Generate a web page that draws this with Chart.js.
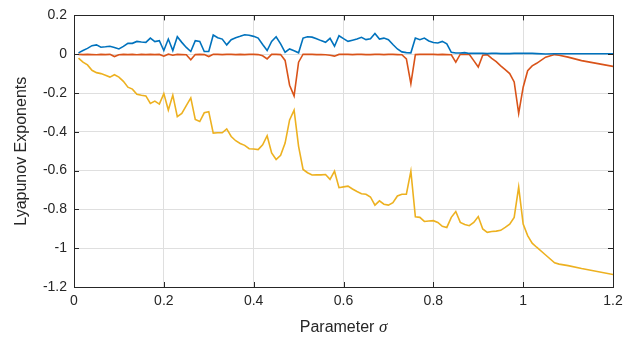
<!DOCTYPE html>
<html>
<head>
<meta charset="utf-8">
<script src="https://cdn.jsdelivr.net/npm/chart.js@4.4.1/dist/chart.umd.min.js"></script>
<style>
  html, body { margin: 0; padding: 0; background: #fff; }
  #wrap { width: 639px; height: 342px; }
</style>
</head>
<body>
<div id="wrap"><canvas id="lyapChart" width="639" height="342"></canvas></div>
<script>
// parameter values (sigma)
const sigma = [
  0.01,0.02,0.03,0.04,0.05,0.06,0.07,0.08,0.09,0.10,
  0.11,0.12,0.13,0.14,0.15,0.16,0.17,0.18,0.19,0.20,
  0.21,0.22,0.23,0.24,0.25,0.26,0.27,0.28,0.29,0.30,
  0.31,0.32,0.33,0.34,0.35,0.36,0.37,0.38,0.39,0.40,
  0.41,0.42,0.43,0.44,0.45,0.46,0.47,0.48,0.49,0.50,
  0.51,0.52,0.53,0.54,0.55,0.56,0.57,0.58,0.59,0.60,
  0.61,0.62,0.63,0.64,0.65,0.66,0.67,0.68,0.69,0.70,
  0.71,0.72,0.73,0.74,0.75,0.76,0.77,0.78,0.79,0.80,
  0.81,0.82,0.83,0.84,0.85,0.86,0.87,0.88,0.89,0.90,
  0.91,0.92,0.93,0.94,0.95,0.96,0.97,0.98,0.99,1.00,
  1.01,1.02,1.03,1.05,1.07,1.08,1.10,1.13,1.20
];

const lyap1 = [
  0.007,0.019,0.03,0.044,0.048,0.036,0.038,0.041,0.035,0.027,
  0.04,0.056,0.056,0.066,0.063,0.061,0.083,0.065,0.07,0.019,
  0.078,0.019,0.09,0.061,0.035,0.014,0.07,0.066,0.014,0.014,
  0.099,0.085,0.078,0.048,0.075,0.085,0.092,0.1,0.098,0.092,
  0.083,0.05,0.019,0.066,0.09,0.053,0.01,0.027,0.018,0.007,
  0.083,0.09,0.088,0.08,0.07,0.061,0.082,0.041,0.095,0.08,
  0.066,0.072,0.078,0.087,0.075,0.08,0.107,0.078,0.083,0.075,
  0.05,0.027,0.012,0.008,0.007,0.083,0.075,0.083,0.068,0.06,
  0.058,0.066,0.053,0.01,0.006,0.006,0.008,0.004,0.004,0.004,
  0.004,0.003,0.004,0.004,0.003,0.003,0.003,0.004,0.005,0.004,
  0.005,0.004,0.003,0.001,0.002,0.002,0.002,0.002,0.002
];

const lyap2 = [
  -0.001,-0.002,-0.001,-0.002,-0.003,-0.001,-0.002,-0.001,-0.012,-0.003,
  -0.001,-0.002,-0.001,-0.003,-0.001,-0.002,-0.001,-0.002,-0.001,-0.01,
  0,-0.005,-0.001,-0.002,-0.003,-0.029,-0.002,-0.001,-0.002,-0.012,
  -0.001,-0.001,-0.002,-0.001,-0.001,-0.002,-0.001,-0.002,-0.001,-0.001,
  -0.002,-0.008,-0.024,-0.001,-0.001,-0.002,-0.032,-0.16,-0.215,-0.041,
  0,-0.001,-0.001,-0.002,-0.002,-0.003,-0.005,-0.01,-0.001,-0.001,
  -0.001,-0.002,-0.001,-0.001,-0.002,-0.002,-0.001,-0.001,-0.002,-0.001,
  -0.001,-0.002,-0.003,-0.024,-0.152,-0.002,-0.001,-0.001,-0.001,-0.001,
  -0.002,-0.001,-0.002,-0.003,-0.041,0,-0.001,0,-0.033,-0.066,
  -0.005,-0.002,-0.022,-0.038,-0.06,-0.08,-0.1,-0.143,-0.305,-0.17,
  -0.085,-0.06,-0.047,-0.015,-0.002,-0.005,-0.015,-0.033,-0.063
];

const lyap3 = [
  -0.02,-0.041,-0.055,-0.083,-0.095,-0.1,-0.108,-0.118,-0.106,-0.118,
  -0.14,-0.17,-0.18,-0.206,-0.212,-0.215,-0.254,-0.242,-0.257,-0.203,
  -0.288,-0.211,-0.322,-0.305,-0.265,-0.225,-0.336,-0.347,-0.302,-0.296,
  -0.407,-0.405,-0.405,-0.385,-0.424,-0.446,-0.46,-0.47,-0.487,-0.489,
  -0.492,-0.467,-0.42,-0.509,-0.543,-0.521,-0.458,-0.339,-0.288,-0.475,
  -0.594,-0.611,-0.623,-0.622,-0.622,-0.62,-0.645,-0.603,-0.688,-0.684,
  -0.68,-0.695,-0.708,-0.719,-0.722,-0.736,-0.778,-0.756,-0.773,-0.778,
  -0.765,-0.731,-0.722,-0.722,-0.603,-0.838,-0.841,-0.862,-0.86,-0.858,
  -0.867,-0.887,-0.893,-0.841,-0.811,-0.867,-0.878,-0.884,-0.867,-0.837,
  -0.901,-0.918,-0.914,-0.912,-0.908,-0.893,-0.876,-0.841,-0.685,-0.876,
  -0.935,-0.974,-0.995,-1.035,-1.075,-1.082,-1.09,-1.105,-1.136
];

const xTicks = [0, 0.2, 0.4, 0.6, 0.8, 1, 1.2];
const yTicks = [0.2, 0, -0.2, -0.4, -0.6, -0.8, -1, -1.2];

const AXIS_COLOR = "#262626";
const GRID_COLOR = "#dfdfdf";

function toPoints(ys) {
    return sigma.map((s, i) => ({ x: s, y: ys[i] }));
}

// box with inward ticks on all four sides + x title with italic sigma
const matlabAxes = {
    id: "matlabAxes",
    afterDraw(chart) {
        const { ctx, chartArea: a, scales } = chart;
        const tl = 5;
        ctx.save();
        ctx.strokeStyle = AXIS_COLOR;
        ctx.lineWidth = 1;
        ctx.beginPath();
        xTicks.forEach(v => {
            const px = Math.round(scales.x.getPixelForValue(v)) + 0.5;
            ctx.moveTo(px, a.bottom); ctx.lineTo(px, a.bottom - tl);
            ctx.moveTo(px, a.top); ctx.lineTo(px, a.top + tl);
        });
        yTicks.forEach(v => {
            const py = Math.round(scales.y.getPixelForValue(v)) + 0.5;
            ctx.moveTo(a.left, py); ctx.lineTo(a.left + tl, py);
            ctx.moveTo(a.right, py); ctx.lineTo(a.right - tl, py);
        });
        ctx.stroke();
        ctx.strokeRect(Math.round(a.left) + 0.5, Math.round(a.top) + 0.5,
            Math.round(a.right - a.left), Math.round(a.bottom - a.top));

        // x axis title
        const part1 = "Parameter ";
        const part2 = "\u03c3";
        const f1 = "16px 'Liberation Sans', Arial, sans-serif";
        const f2 = "italic 17px 'Liberation Serif', 'Times New Roman', serif";
        ctx.font = f1;
        const w1 = ctx.measureText(part1).width;
        ctx.font = f2;
        const w2 = ctx.measureText(part2).width;
        const cx = (a.left + a.right) / 2;
        const y = 328;
        let x = cx - (w1 + w2) / 2;
        ctx.fillStyle = AXIS_COLOR;
        ctx.textBaseline = "middle";
        ctx.textAlign = "left";
        ctx.font = f1;
        ctx.fillText(part1, x, y);
        ctx.font = f2;
        ctx.fillText(part2, x + w1, y);
        ctx.restore();
    }
};

const ctx = document.getElementById("lyapChart").getContext("2d");

new Chart(ctx, {
    type: "line",
    data: {
        datasets: [
            { label: "lambda1", data: toPoints(lyap1), borderColor: "#0072BD" },
            { label: "lambda2", data: toPoints(lyap2), borderColor: "#D95319" },
            { label: "lambda3", data: toPoints(lyap3), borderColor: "#EDB120" }
        ]
    },
    options: {
        responsive: false,
        animation: false,
        parsing: false,
        elements: {
            point: { radius: 0 },
            line: { borderWidth: 1.6, tension: 0, fill: false }
        },
        layout: { padding: { left: 0, right: 26, top: 13, bottom: 0 } },
        plugins: {
            legend: { display: false },
            tooltip: { enabled: false }
        },
        scales: {
            x: {
                type: "linear",
                min: 0,
                max: 1.2,
                afterFit: s => { s.height = 55; },
                afterBuildTicks: s => { s.ticks = xTicks.map(v => ({ value: v })); },
                ticks: {
                    padding: 6,
                    color: AXIS_COLOR,
                    font: { family: "'Liberation Sans', Arial, sans-serif", size: 14 },
                    maxRotation: 0,
                    callback: v => String(parseFloat(v.toFixed(1)))
                },
                grid: { color: GRID_COLOR, drawTicks: false },
                border: { display: false }
            },
            y: {
                type: "linear",
                min: -1.2,
                max: 0.2,
                afterFit: s => { s.width = 74; },
                afterBuildTicks: s => { s.ticks = yTicks.map(v => ({ value: v })); },
                ticks: {
                    padding: 7,
                    color: AXIS_COLOR,
                    font: { family: "'Liberation Sans', Arial, sans-serif", size: 14 },
                    callback: v => String(parseFloat(v.toFixed(1)))
                },
                grid: { color: GRID_COLOR, drawTicks: false },
                border: { display: false },
                title: {
                    display: true,
                    text: "Lyapunov Exponents",
                    color: AXIS_COLOR,
                    font: { family: "'Liberation Sans', Arial, sans-serif", size: 16 },
                    padding: { top: 12, bottom: 0 }
                }
            }
        }
    },
    plugins: [matlabAxes]
});
</script>
</body>
</html>
